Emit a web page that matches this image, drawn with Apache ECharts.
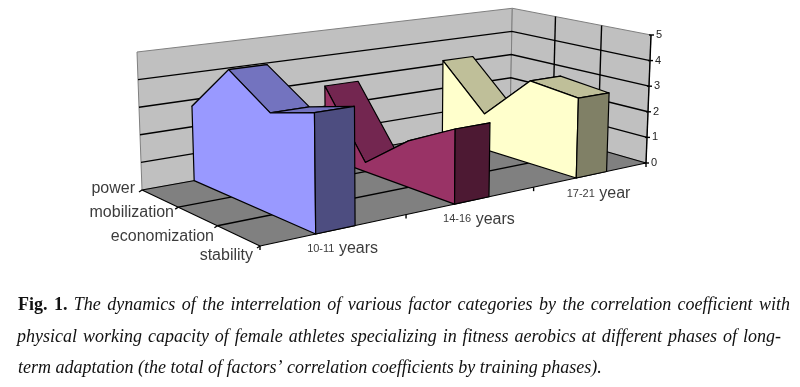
<!DOCTYPE html>
<html>
<head>
<meta charset="utf-8">
<style>
	html,body{margin:0;padding:0;background:#fff;}
	#main{width:800px;height:387px;}
</style>
<script src="https://cdn.jsdelivr.net/npm/echarts@6/dist/echarts.min.js"></script>
</head>
<body>
<div id="main"></div>
<script>
	var ages = ['10-11 years', '14-16 years', '17-21 year'];
	var factors = ['power', 'mobilization', 'economization', 'stability'];
	var values1011 = [2.76, 4.55, 3.5, 4.0];
	var values1416 = [2.8, 0.35, 1.7, 2.65];
	var values1721 = [3.15, 1.42, 3.2, 3.0];
	var valueTicks = [0, 1, 2, 3, 4, 5];

	// floor corners as seen in the picture, the chart is a perspective box
	var cornerA = [142, 190], cornerB = [510, 124], cornerC = [646, 163], cornerD = [260, 246];
	var bandShare = 0.27;
	var unitHeight = 138 / 5;

	var dx1 = cornerB[0] - cornerC[0], dx2 = cornerD[0] - cornerC[0], dx3 = cornerA[0] - cornerB[0] + cornerC[0] - cornerD[0];
	var dy1 = cornerB[1] - cornerC[1], dy2 = cornerD[1] - cornerC[1], dy3 = cornerA[1] - cornerB[1] + cornerC[1] - cornerD[1];
	var det = dx1 * dy2 - dx2 * dy1;
	var hg = (dx3 * dy2 - dx2 * dy3) / det;
	var hh = (dx1 * dy3 - dx3 * dy1) / det;

	// depth 0..1 = power..stability, along 0..1 = first..last age, val = value axis
	function project(depth, along, val) {
		var w = hg * along + hh * depth + 1;
		var x = ((cornerB[0] - cornerA[0] + hg * cornerB[0]) * along + (cornerD[0] - cornerA[0] + hh * cornerD[0]) * depth + cornerA[0]) / w;
		var y = ((cornerB[1] - cornerA[1] + hg * cornerB[1]) * along + (cornerD[1] - cornerA[1] + hh * cornerD[1]) * depth + cornerA[1]) / w;
		var lean = (x - 394) / 252 * val;
		return [x + lean, y - val * unitHeight / w];
	}

	function poly(api, pts, fill, stroke, lw) {
		return {
			type: 'polygon',
			shape: { points: pts.map(function (p) { return api.coord(p); }) },
			style: { fill: fill, stroke: stroke || '#000', lineWidth: lw == null ? 1.2 : lw, lineJoin: 'round' }
		};
	}
	function line(api, pts, stroke, lw) {
		return {
			type: 'polyline',
			shape: { points: pts.map(function (p) { return api.coord(p); }) },
			style: { fill: null, stroke: stroke || '#000', lineWidth: lw || 1.4 }
		};
	}
	function label(api, p, text, align, extra) {
		var c = api.coord(p);
		var style = { x: c[0], y: c[1], text: text, align: align, verticalAlign: 'middle', fill: '#3c3c3c', font: '16px "Liberation Sans"' };
		for (var k in extra) style[k] = extra[k];
		return { type: 'text', style: style };
	}

	function renderRoom(params, api) {
		var kids = [];
		kids.push(poly(api, [project(0, 0, 0), project(0, 1, 0), project(0, 1, 5), project(0, 0, 5)], '#c0c0c0', '#808080', 1));
		kids.push(poly(api, [project(0, 1, 0), project(1, 1, 0), project(1, 1, 5), project(0, 1, 5)], '#c0c0c0', '#808080', 1));
		kids.push(poly(api, [project(0, 0, 0), project(0, 1, 0), project(1, 1, 0), project(1, 0, 0)], '#808080', '#000', 1.2));
		valueTicks.forEach(function (t) {
			if (t > 0 && t < 5) kids.push(line(api, [project(0, 0, t), project(0, 1, t), project(1, 1, t)]));
		});
		for (var i = 1; i < factors.length - 1; i++) {
			var d = i / (factors.length - 1);
			kids.push(line(api, [project(d, 1, 0), project(d, 1, 5)]));
			kids.push(line(api, [project(d, 0, 0), project(d, 1, 0)]));
		}
		// value axis on the right
		kids.push(line(api, [project(1, 1, 0), project(1, 1, 5)]));
		valueTicks.forEach(function (t) {
			var p = project(1, 1, t);
			kids.push(line(api, [[p[0] - 2, p[1]], [p[0] + 3, p[1]]]));
			kids.push(label(api, [p[0] + 5, p[1]], String(t), 'left', { font: '11px "Liberation Sans"', fill: '#222' }));
		});
		// depth axis, front left
		factors.forEach(function (name, i) {
			var p = project(i / (factors.length - 1), 0, 0);
			kids.push(line(api, [p, [p[0] - 3, p[1] + 2]]));
		});
		kids.push(label(api, [135, 189], factors[0], 'right'));
		kids.push(label(api, [174, 213], factors[1], 'right'));
		kids.push(label(api, [214, 237], factors[2], 'right'));
		kids.push(label(api, [253, 256], factors[3], 'right'));
		// age axis, along the front edge
		for (var j = 0; j <= ages.length; j++) {
			var q = project(1, j / ages.length, 0);
			kids.push(line(api, [q, [q[0], q[1] + 4]]));
		}
		ages.forEach(function (name, j) {
			var q = project(1, (j + 0.5) / ages.length, 0);
			var parts = name.split(' ');
			kids.push(label(api, [q[0] + 7, q[1] + 19], '{a|' + parts[0] + '} {b|' + parts[1] + '}', 'center', {
				rich: {
					a: { font: '11px "Liberation Sans"', fill: '#3c3c3c' },
					b: { font: '16px "Liberation Sans"', fill: '#3c3c3c' }
				}
			}));
		});
		return { type: 'group', children: kids };
	}

	function bandSeries(ageIndex, values, front, top, side) {
		var a0 = (ageIndex + (1 - bandShare) / 2) / ages.length;
		var a1 = (ageIndex + (1 + bandShare) / 2) / ages.length;
		var last = values.length - 1;
		return {
			type: 'custom',
			coordinateSystem: 'cartesian2d',
			data: values,
			clip: false,
			silent: true,
			renderItem: function (params, api) {
				var i = params.dataIndex;
				var d = i / last;
				if (i < last) {
					var d2 = (i + 1) / last;
					return poly(api, [project(d, a0, values[i]), project(d2, a0, values[i + 1]), project(d2, a1, values[i + 1]), project(d, a1, values[i])], top);
				}
				// last item closes the band with its front and end faces
				var pts = [project(0, a0, 0)];
				values.forEach(function (v, k) { pts.push(project(k / last, a0, v)); });
				pts.push(project(1, a0, 0));
				return {
					type: 'group',
					children: [
						poly(api, pts, front),
						poly(api, [project(1, a0, 0), project(1, a0, values[last]), project(1, a1, values[last]), project(1, a1, 0)], side)
					]
				};
			}
		};
	}

	// caption is justified in the paper, canvas has no word spacing so lay the words out one by one
	var captionFont = 'italic 18px "Liberation Serif"';
	var captionBold = 'bold 18px "Liberation Serif"';
	var measure = document.createElement('canvas').getContext('2d');
	function captionLine(text, boldWords, left, right, y, justify) {
		var words = text.split(' ');
		var widths = words.map(function (w, i) {
			measure.font = i < boldWords ? captionBold : captionFont;
			return measure.measureText(w).width;
		});
		var total = widths.reduce(function (a, b) { return a + b; }, 0);
		var gap = justify ? (right - left - total) / (words.length - 1) : 4.5;
		var x = left;
		return words.map(function (w, i) {
			var el = { type: 'text', x: x, y: y, style: { text: w, fill: '#111', font: i < boldWords ? captionBold : captionFont, verticalAlign: 'middle' } };
			x += widths[i] + gap;
			return el;
		});
	}

	var myChart = echarts.init(document.getElementById('main'), null, { renderer: 'canvas' });
	myChart.setOption({
		animation: false,
		backgroundColor: '#fff',
		grid: { left: 0, right: 0, top: 0, bottom: 0 },
		xAxis: { type: 'value', min: 0, max: 800, show: false },
		yAxis: { type: 'value', min: 0, max: 387, inverse: true, show: false },
		series: [
			{ type: 'custom', coordinateSystem: 'cartesian2d', data: [0], clip: false, silent: true, renderItem: renderRoom },
			bandSeries(2, values1721, '#ffffcc', '#bfbf99', '#808066'),
			bandSeries(1, values1416, '#993366', '#732650', '#4d1933'),
			bandSeries(0, values1011, '#9999ff', '#7373bf', '#4d4d80')
		],
		graphic: [].concat(
			captionLine('Fig. 1. The dynamics of the interrelation of various factor categories by the correlation coefficient with', 2, 18, 790, 305, true),
			captionLine('physical working capacity of female athletes specializing in fitness aerobics at different phases of long-', 0, 17, 781, 337, true),
			captionLine('term adaptation (the total of factors’ correlation coefficients by training phases).', 0, 18, 606, 368, false)
		)
	});
</script>
</body>
</html>
